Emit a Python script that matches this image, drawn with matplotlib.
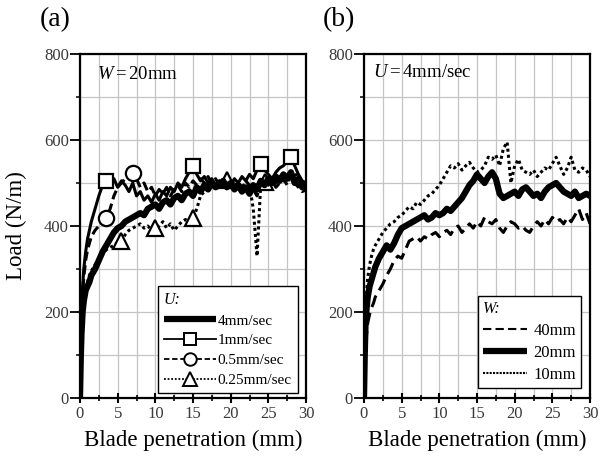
import matplotlib
matplotlib.use("Agg")
import matplotlib.pyplot as plt
from matplotlib.ticker import MultipleLocator
from matplotlib.lines import Line2D

plt.rcParams["font.family"] = ["Liberation Serif", "DejaVu Serif"]
plt.rcParams["mathtext.fontset"] = "custom"
plt.rcParams["mathtext.rm"] = "Liberation Serif"
plt.rcParams["mathtext.it"] = "Liberation Serif:italic"

# Blade penetration (mm), shared sampling for every trace
pen = [0, 0.1, 0.2, 0.35, 0.5, 0.75, 1, 1.25, 1.5,
       2, 2.5, 3, 3.5, 4, 4.5, 5, 5.5, 6, 6.5, 7, 7.5, 8, 8.5, 9, 9.5,
       10, 10.5, 11, 11.5, 12, 12.5, 13, 13.5, 14, 14.5, 15, 15.5, 16, 16.5,
       17, 17.5, 18, 18.5, 19, 19.5, 20, 20.5, 21, 21.5, 22, 22.5, 23, 23.5,
       24, 24.5, 25, 25.5, 26, 26.5, 27, 27.5, 28, 28.5, 29, 29.5, 30]

# (a) W = 20 mm, different cutting speeds U -- load in N/m
load_u4 = [0, 90, 150, 200, 225, 250, 260, 270, 285,
           300, 320, 340, 355, 370, 385, 395, 400, 410, 415, 420, 425, 430, 425, 440, 445,
           450, 440, 455, 460, 450, 465, 470, 460, 475, 480, 470, 490, 480, 495,
           485, 500, 490, 495, 505, 490, 500, 485, 495, 480, 490, 475, 495, 485,
           505, 495, 510, 500, 515, 505, 520, 510, 525, 500, 510, 490, 495]
load_u1 = [0, 120, 200, 260, 300, 340, 370, 390, 410,
           440, 470, 495, 505, 500, 510, 490, 505, 495, 480, 500, 470, 480, 460, 470, 455,
           475, 460, 480, 470, 490, 480, 500, 490, 510, 525, 540, 520, 505, 515,
           500, 510, 495, 505, 490, 500, 495, 510, 500, 515, 505, 520, 510, 530,
           545, 530, 520, 510, 525, 535, 540, 550, 560, 540, 520, 505, 500]
load_u05 = [0, 100, 180, 240, 280, 320, 345, 360, 375,
            390, 400, 410, 418, 440, 470, 490, 500, 510, 515, 524, 510, 490, 500, 480, 490,
            470, 485, 475, 490, 470, 485, 495, 480, 500, 490, 505, 495, 510, 500,
            515, 500, 510, 495, 505, 490, 500, 485, 500, 490, 505, 495, 485, 470,
            500, 510, 495, 505, 490, 500, 510, 495, 520, 500, 490, 480, 485]
load_u025 = [0, 80, 140, 190, 220, 250, 270, 285, 295,
             310, 325, 335, 345, 350, 355, 362, 365, 380, 390, 395, 400, 405, 395, 400, 390,
             396, 400, 410, 395, 405, 390, 400, 410, 415, 410, 418, 440, 470, 480,
             490, 500, 495, 505, 500, 507, 495, 505, 490, 500, 485, 495, 440, 330,
             500, 503, 495, 510, 500, 515, 505, 520, 510, 525, 500, 490, 480]

# (b) U = 4 mm/sec, different specimen widths W -- load in N/m
load_w40 = [0, 60, 110, 150, 175, 195, 210, 220, 235,
            250, 265, 285, 300, 320, 330, 325, 345, 365, 370, 375, 365, 375, 370, 380, 385,
            375, 385, 390, 380, 395, 400, 385, 395, 405, 395, 410, 400, 420, 410,
            405, 415, 395, 385, 400, 410, 405, 395, 400, 390, 385, 400, 410, 400,
            415, 405, 420, 410, 415, 405, 420, 410, 425, 440, 415, 430, 405]
load_w20 = [0, 100, 170, 210, 235, 260, 275, 290, 305,
            325, 340, 355, 345, 360, 380, 395, 400, 405, 410, 415, 420, 425, 415, 420, 430,
            425, 430, 440, 435, 445, 455, 465, 480, 495, 505, 520, 510, 500, 515,
            525, 510, 475, 465, 470, 475, 480, 470, 485, 490, 480, 470, 475, 465,
            480, 490, 495, 500, 490, 480, 475, 470, 480, 465, 470, 475, 470]
load_w10 = [0, 120, 200, 250, 280, 310, 330, 345, 355,
            370, 385, 395, 405, 410, 420, 425, 435, 445, 440, 455, 450, 460, 470, 475, 485,
            495, 510, 525, 540, 535, 545, 530, 540, 548, 535, 525, 530, 540, 560,
            555, 565, 540, 580, 595, 500, 540, 555, 530, 525, 520, 530, 515, 525,
            535, 530, 545, 560, 540, 520, 535, 560, 530, 525, 535, 530, 515]

labels_a = ["4mm/sec", "1mm/sec", "0.5mm/sec", "0.25mm/sec"]
labels_b = ["40mm", "20mm", "10mm"]
xticks = [0, 5, 10, 15, 20, 25, 30]
yticks = [0, 200, 400, 600, 800]

# marker positions (penetration, mm) along the slower-speed traces
sq_at = [3.5, 15, 24, 28]
ci_at = [3.5, 7]
tri_at = [5.5, 10, 15, 19.5, 24.5]


def idx(xs):
    return [pen.index(v) for v in xs]


fig = plt.figure(figsize=(6.02, 4.59), dpi=100)
W, H = 602, 459
ax_a = fig.add_axes([80 / W, 61 / H, 226 / W, 344 / H])
ax_b = fig.add_axes([364 / W, 61 / H, 226 / W, 344 / H])


def style(ax):
    ax.set_xlim(0, 30)
    ax.set_ylim(0, 800)
    ax.set_xticks(xticks)
    ax.set_yticks(yticks)
    ax.xaxis.set_minor_locator(MultipleLocator(2.5))
    ax.yaxis.set_minor_locator(MultipleLocator(100))
    ax.grid(True, which="both", color="#c4c4c4", lw=0.9)
    ax.set_axisbelow(True)
    for s in ax.spines.values():
        s.set_linewidth(1.6)
    ax.tick_params(axis="x", which="major", direction="inout", length=7, width=1.5,
                   labelsize=12, pad=2)
    ax.tick_params(axis="x", which="minor", direction="inout", length=5, width=1.2)
    ax.tick_params(axis="y", which="major", direction="out", length=7, width=1.3,
                   labelsize=12, pad=1)
    ax.tick_params(axis="y", which="minor", direction="out", length=3, width=1.1)
    for lab in ax.get_xticklabels() + ax.get_yticklabels():
        lab.set_color("#3a3a3a")
    ax.set_xlabel("Blade penetration (mm)", fontsize=16.5, labelpad=6)


style(ax_a)
style(ax_b)

# ---- panel (a)
ax_a.plot(pen, load_u025, color="black", lw=2.2, ls=(0, (1, 1)),
          marker="^", markevery=idx(tri_at), ms=12, mfc="white", mec="black", mew=1.6)
ax_a.plot(pen, load_u05, color="black", lw=2.2, ls=(0, (3, 1.5)),
          marker="o", markevery=idx(ci_at), ms=11, mfc="white", mec="black", mew=1.6)
ax_a.plot(pen, load_u1, color="black", lw=2.2, ls="-",
          marker="s", markevery=idx(sq_at), ms=10, mfc="white", mec="black", mew=1.6)
ax_a.plot(pen, load_u4, color="black", lw=4.5, ls="-")

ax_a.text(2.3, 752, "$W=$20mm", fontsize=13.5, va="center", ha="left")
ax_a.set_ylabel("Load (N/m)", fontsize=16.5, labelpad=12)

h_a = [Line2D([], [], color="black", lw=4.5, solid_capstyle="butt"),
       Line2D([], [], color="black", lw=1.3, marker="s", ms=9, mfc="white", mew=1.4),
       Line2D([], [], color="black", lw=1.3, ls=(0, (3, 1.5)), marker="o", ms=9,
              mfc="white", mew=1.4),
       Line2D([], [], color="black", lw=1.3, ls=(0, (1, 1)), marker="^", ms=10,
              mfc="white", mew=1.4)]
leg_a = ax_a.legend(h_a, labels_a, title="U:", loc="lower right",
                    bbox_to_anchor=(0.965, 0.014), fontsize=11, handlelength=3.4,
                    handletextpad=0.15, labelspacing=0.4, borderpad=0.4,
                    fancybox=False, framealpha=1, edgecolor="black",
                    title_fontproperties={"style": "italic", "size": 11.5},
                    alignment="left", borderaxespad=0)
leg_a.get_frame().set_linewidth(1.0)

# ---- panel (b)
ax_b.plot(pen, load_w40, color="black", lw=2.2, ls=(0, (4, 2)))
ax_b.plot(pen, load_w10, color="black", lw=2.2, ls=(0, (1, 1)))
ax_b.plot(pen, load_w20, color="black", lw=4.5, ls="-")

ax_b.text(1.2, 758, "$U=$4mm/sec", fontsize=13.5, va="center", ha="left")

h_b = [Line2D([], [], color="black", lw=1.5, ls=(0, (4, 2))),
       Line2D([], [], color="black", lw=4.5, solid_capstyle="butt"),
       Line2D([], [], color="black", lw=1.5, ls=(0, (1, 0.6)))]
leg_b = ax_b.legend(h_b, labels_b, title="W:", loc="lower right",
                    bbox_to_anchor=(0.96, 0.03), fontsize=12, handlelength=2.6,
                    handletextpad=0.4, labelspacing=0.35, borderpad=0.3,
                    fancybox=False, framealpha=1, edgecolor="black",
                    title_fontproperties={"style": "italic", "size": 11.5},
                    alignment="left", borderaxespad=0)
leg_b.get_frame().set_linewidth(1.0)

fig.text(55 / W, 1 - 20 / H, "(a)", fontsize=20, ha="center", va="center")
fig.text(339 / W, 1 - 20 / H, "(b)", fontsize=20, ha="center", va="center")

fig.savefig("out.png", dpi=100)
